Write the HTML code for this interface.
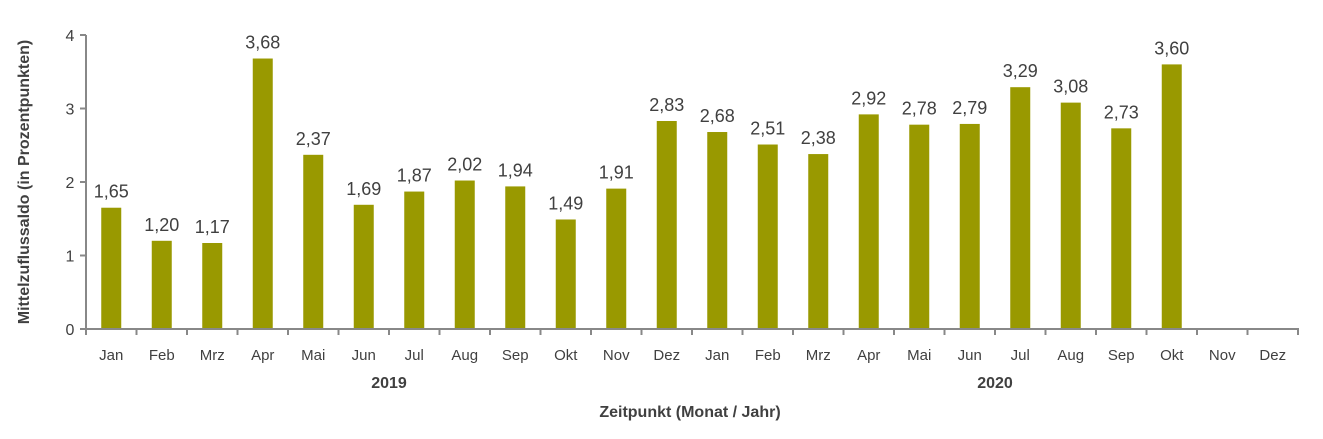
<!DOCTYPE html>
<html><head><meta charset="utf-8"><style>
body{margin:0;background:#fff;}
svg text{font-family:"Liberation Sans",sans-serif;fill:#404040;}
</style></head><body>
<svg width="1323" height="434" xmlns="http://www.w3.org/2000/svg">
<g id="c"></g>
</svg>
<script>
const vals=[1.65,1.20,1.17,3.68,2.37,1.69,1.87,2.02,1.94,1.49,1.91,2.83,2.68,2.51,2.38,2.92,2.78,2.79,3.29,3.08,2.73,3.60,null,null];
const m=["Jan","Feb","Mrz","Apr","Mai","Jun","Jul","Aug","Sep","Okt","Nov","Dez"];
const x0=86,y0=329,sc=73.5,w=50.5;
let s='';
for(let i=0;i<=4;i++){const y=y0-i*sc;s+=`<line x1="80" y1="${y}" x2="86" y2="${y}" stroke="#888" stroke-width="2"/><text x="70" y="${y+6}" font-size="16" text-anchor="middle">${i}</text>`;}
for(let i=0;i<24;i++){const cx=x0+w*i+w/2;
 s+=`<line x1="${x0+w*(i+1)}" y1="${y0}" x2="${x0+w*(i+1)}" y2="${y0+6}" stroke="#888" stroke-width="2"/>`;
 s+=`<text x="${cx}" y="360" font-size="15" text-anchor="middle">${m[i%12]}</text>`;
 const v=vals[i]; if(v!=null){const h=v*sc;
 s+=`<rect x="${cx-10}" y="${y0-h}" width="20" height="${h}" fill="#999900"/>`;
 s+=`<text x="${cx}" y="${y0-h-10}" font-size="18" text-anchor="middle">${v.toFixed(2).replace('.',',')}</text>`;}}
s+=`<line x1="86" y1="35" x2="86" y2="${y0+6}" stroke="#888" stroke-width="2"/><line x1="85" y1="${y0}" x2="1299" y2="${y0}" stroke="#888" stroke-width="2"/>`;
s+=`<text x="389" y="388" font-size="16" font-weight="bold" text-anchor="middle">2019</text>`;
s+=`<text x="995" y="388" font-size="16" font-weight="bold" text-anchor="middle">2020</text>`;
s+=`<text x="690" y="417" font-size="16" font-weight="bold" text-anchor="middle">Zeitpunkt (Monat / Jahr)</text>`;
s+=`<text transform="translate(29,182) rotate(-90)" font-size="16" font-weight="bold" text-anchor="middle">Mittelzuflussaldo (in Prozentpunkten)</text>`;
document.getElementById('c').innerHTML=s;
</script>
</body></html>
